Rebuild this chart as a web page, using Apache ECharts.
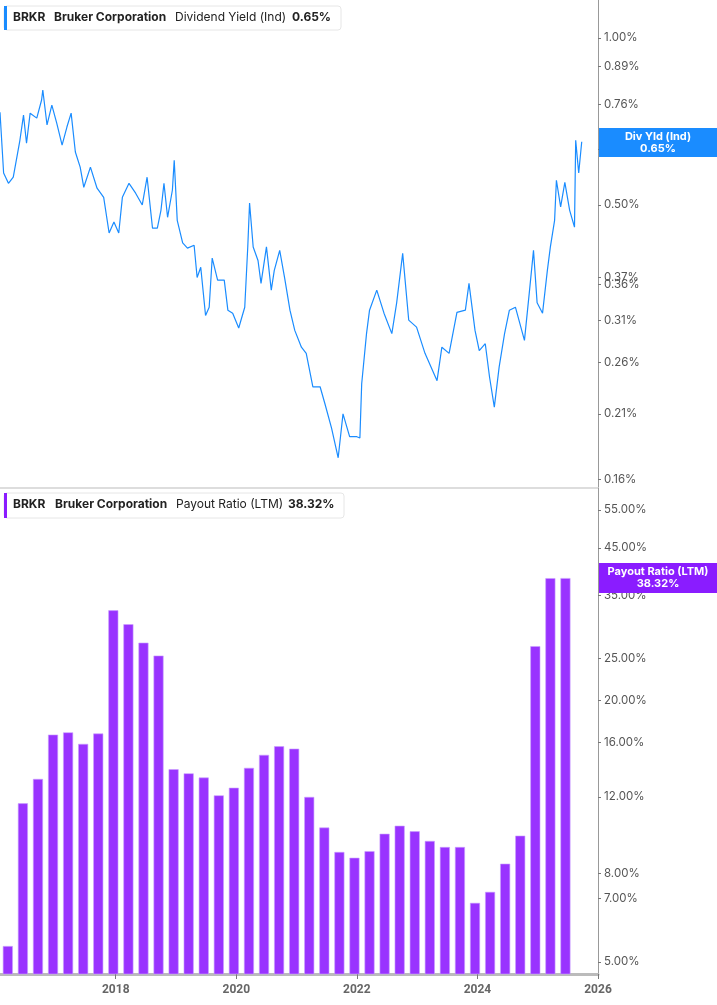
<!DOCTYPE html>
<html>
<head>
<meta charset="utf-8">
<script src="https://cdn.jsdelivr.net/npm/echarts@6/dist/echarts.min.js"></script>
<style>
  html, body { margin: 0; padding: 0; background: #fff; }
  #chart { width: 717px; height: 1005px; }
</style>
</head>
<body>
<div id="chart"></div>
<script>
// dividend yield (%), x in decimal years
var yldDates = [2016.08, 2016.14, 2016.22, 2016.30, 2016.36, 2016.41, 2016.47, 2016.52, 2016.58, 2016.69,
    2016.77, 2016.79, 2016.86, 2016.94, 2017.02, 2017.11, 2017.19, 2017.26, 2017.33, 2017.41,
    2017.47, 2017.58, 2017.69, 2017.80, 2017.89, 2017.97, 2018.05, 2018.11, 2018.22, 2018.33,
    2018.44, 2018.52, 2018.61, 2018.69, 2018.75, 2018.80, 2018.86, 2018.94, 2018.97, 2019.02,
    2019.11, 2019.19, 2019.30, 2019.35, 2019.41, 2019.49, 2019.55, 2019.60, 2019.69, 2019.80,
    2019.86, 2019.94, 2020.04, 2020.14, 2020.19, 2020.22, 2020.28, 2020.36, 2020.41, 2020.50,
    2020.58, 2020.63, 2020.72, 2020.80, 2020.89, 2020.97, 2021.08, 2021.16, 2021.27, 2021.39,
    2021.47, 2021.58, 2021.69, 2021.77, 2021.88, 2022.00, 2022.05, 2022.08, 2022.16, 2022.21,
    2022.33, 2022.45, 2022.58, 2022.66, 2022.76, 2022.86, 2022.99, 2023.13, 2023.33, 2023.41,
    2023.53, 2023.66, 2023.80, 2023.86, 2023.96, 2024.03, 2024.13, 2024.20, 2024.28, 2024.36,
    2024.45, 2024.53, 2024.63, 2024.78, 2024.86, 2024.93, 2024.99, 2025.08, 2025.16, 2025.21,
    2025.28, 2025.31, 2025.38, 2025.45, 2025.53, 2025.61, 2025.63, 2025.68, 2025.73];
var yldValues = [0.735, 0.571, 0.547, 0.561, 0.610, 0.654, 0.726, 0.646, 0.732, 0.717,
    0.773, 0.806, 0.697, 0.757, 0.703, 0.641, 0.691, 0.732, 0.623, 0.585,
    0.538, 0.585, 0.536, 0.516, 0.445, 0.466, 0.445, 0.516, 0.547, 0.525,
    0.500, 0.561, 0.454, 0.454, 0.489, 0.547, 0.475, 0.532, 0.602, 0.469,
    0.427, 0.418, 0.423, 0.370, 0.386, 0.316, 0.327, 0.401, 0.366, 0.366,
    0.323, 0.319, 0.300, 0.327, 0.420, 0.504, 0.420, 0.397, 0.361, 0.420,
    0.351, 0.381, 0.414, 0.370, 0.323, 0.297, 0.277, 0.270, 0.235, 0.235,
    0.219, 0.198, 0.175, 0.210, 0.191, 0.191, 0.190, 0.238, 0.293, 0.323,
    0.351, 0.319, 0.293, 0.333, 0.409, 0.310, 0.301, 0.270, 0.241, 0.277,
    0.270, 0.320, 0.323, 0.361, 0.297, 0.273, 0.281, 0.245, 0.216, 0.255,
    0.293, 0.323, 0.327, 0.285, 0.347, 0.414, 0.333, 0.319, 0.381, 0.420,
    0.469, 0.554, 0.496, 0.549, 0.489, 0.456, 0.654, 0.571, 0.650];

// payout ratio (LTM, %) per quarter
var payDates = [2016.21, 2016.46, 2016.71, 2016.96, 2017.21, 2017.46, 2017.71, 2017.96, 2018.21, 2018.46,
    2018.71, 2018.96, 2019.21, 2019.46, 2019.71, 2019.96, 2020.21, 2020.46, 2020.71, 2020.96,
    2021.21, 2021.46, 2021.71, 2021.96, 2022.21, 2022.46, 2022.71, 2022.96, 2023.21, 2023.46,
    2023.71, 2023.96, 2024.21, 2024.46, 2024.71, 2024.96, 2025.21, 2025.46];
var payValues = [5.44, 11.6, 13.2, 16.7, 16.9, 15.9, 16.8, 32.3, 30.0, 27.2,
    25.4, 13.9, 13.6, 13.3, 12.1, 12.6, 14.0, 15.0, 15.7, 15.5,
    12.0, 10.2, 8.96, 8.69, 9.0, 9.87, 10.3, 10.0, 9.5, 9.2,
    9.2, 6.84, 7.25, 8.42, 9.77, 26.7, 38.3, 38.32];

var yldTicks = [1.00, 0.89, 0.76, 0.63, 0.50, 0.37, 0.36, 0.31, 0.26, 0.21, 0.16];
var payTicks = [55, 45, 35, 25, 20, 16, 12, 8, 7, 5];
var yearTicks = [2018, 2020, 2022, 2024, 2026];

var chart = echarts.init(document.getElementById('chart'));

var labelStyle = { color: '#555', fontSize: 11.5, fontFamily: 'Inter', margin: 6 };

var option = {
    animation: false,
    grid: [
        { left: 0, right: 119, top: 0, height: 487 },
        { left: 0, right: 119, top: 488, height: 486 }
    ],
    xAxis: [
        { gridIndex: 0, type: 'value', min: 2016.08, max: 2026.0, show: false },
        {
            gridIndex: 1, type: 'value', min: 2016.08, max: 2026.0,
            axisLine: { show: true, lineStyle: { color: '#bbb', width: 3 } },
            axisTick: { show: true, customValues: yearTicks, length: 5, lineStyle: { color: '#777' } },
            axisLabel: {
                customValues: yearTicks, color: '#666', fontSize: 12, fontWeight: 'bold',
                fontFamily: 'Roboto', margin: 10, formatter: function (v) { return String(v); }
            },
            splitLine: { show: false }
        }
    ],
    yAxis: [
        {
            gridIndex: 0, type: 'log', position: 'right', min: 0.155, max: 1.171,
            axisLine: { show: true, lineStyle: { color: '#999', width: 1 } },
            axisTick: { show: true, customValues: yldTicks, length: 3, inside: false, lineStyle: { color: '#777' } },
            axisLabel: Object.assign({ customValues: yldTicks, formatter: function (v) { return v.toFixed(2) + '%'; } }, labelStyle),
            splitLine: { show: false }
        },
        {
            gridIndex: 1, type: 'log', position: 'right', min: 4.69, max: 61.8,
            axisLine: { show: true, lineStyle: { color: '#999', width: 1 } },
            axisTick: { show: true, customValues: payTicks, length: 3, lineStyle: { color: '#777' } },
            axisLabel: Object.assign({ customValues: payTicks, formatter: function (v) { return v.toFixed(2) + '%'; } }, labelStyle),
            splitLine: { show: false }
        }
    ],
    series: [
        {
            type: 'line', xAxisIndex: 0, yAxisIndex: 0, showSymbol: false,
            data: yldDates.map(function (d, i) { return [d, yldValues[i]]; }),
            lineStyle: { color: '#1a8cff', width: 1.2 }
        },
        {
            type: 'bar', xAxisIndex: 1, yAxisIndex: 1, barWidth: 10,
            data: payDates.map(function (d, i) { return [d, payValues[i]]; }),
            itemStyle: { color: '#9933ff', borderColor: '#c9a0ff', borderWidth: 0.6 }
        }
    ],
    graphic: [
        { type: 'rect', shape: { x: 0, y: 487, width: 598, height: 2 }, style: { fill: '#ddd' } },
        { type: 'rect', shape: { x: 4, y: 6, width: 337, height: 24, r: 3 }, style: { fill: '#fff', stroke: '#e6e6e6' }, z: 10 },
        { type: 'rect', shape: { x: 4, y: 6, width: 3, height: 24 }, style: { fill: '#1a8cff' }, z: 11 },
        { type: 'text', x: 13, y: 11, z: 11, style: { text: 'BRKR', font: 'bold 12px Inter', fill: '#222' } },
        { type: 'text', x: 54, y: 11, z: 11, style: { text: 'Bruker Corporation', font: 'bold 12px Inter', fill: '#222' } },
        { type: 'text', x: 175, y: 11, z: 11, style: { text: 'Dividend Yield (Ind)', font: '12px Inter', fill: '#222' } },
        { type: 'text', x: 292, y: 11, z: 11, style: { text: '0.65%', font: 'bold 12px Inter', fill: '#222' } },

        { type: 'rect', shape: { x: 4, y: 493, width: 340, height: 25, r: 3 }, style: { fill: '#fff', stroke: '#e6e6e6' }, z: 10 },
        { type: 'rect', shape: { x: 4, y: 493, width: 3, height: 25 }, style: { fill: '#8a1cff' }, z: 11 },
        { type: 'text', x: 13, y: 498, z: 11, style: { text: 'BRKR', font: 'bold 12px Inter', fill: '#222' } },
        { type: 'text', x: 55, y: 498, z: 11, style: { text: 'Bruker Corporation', font: 'bold 12px Inter', fill: '#222' } },
        { type: 'text', x: 176, y: 498, z: 11, style: { text: 'Payout Ratio (LTM)', font: '12px Inter', fill: '#222' } },
        { type: 'text', x: 288, y: 498, z: 11, style: { text: '38.32%', font: 'bold 12px Inter', fill: '#222' } },

        { type: 'rect', shape: { x: 599, y: 128, width: 118, height: 29 }, style: { fill: '#1a8cff' }, z: 20 },
        { type: 'text', x: 658, y: 131, z: 21, style: { text: 'Div Yld (Ind)\n0.65%', align: 'center', font: 'bold 11px Inter', lineHeight: 12, fill: '#fff' } },
        { type: 'rect', shape: { x: 599, y: 563, width: 118, height: 30 }, style: { fill: '#8a1cff' }, z: 20 },
        { type: 'text', x: 658, y: 566, z: 21, style: { text: 'Payout Ratio (LTM)\n38.32%', align: 'center', font: 'bold 11px Inter', lineHeight: 12, fill: '#fff' } }
    ]
};

chart.setOption(option);
</script>
</body>
</html>
